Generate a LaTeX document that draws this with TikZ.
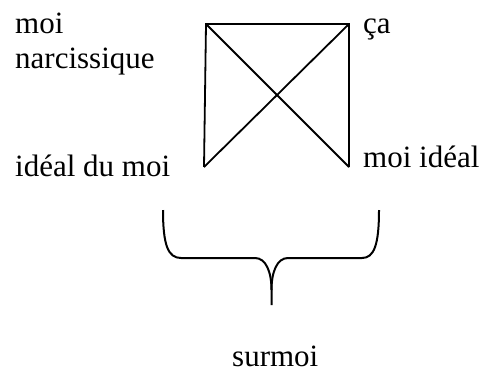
\documentclass[tikz,border=0pt]{standalone}
\usepackage{fontspec}
\setmainfont{Liberation Serif}
\usetikzlibrary{positioning}

\begin{document}
\begin{tikzpicture}[
    x=1pt, y=-1pt,
    lbl/.style={anchor=base west, inner sep=0pt, align=left,
                font=\fontsize{31}{35}\selectfont},
    trait/.style={line width=1.8pt, line join=miter},
    accol/.style={line width=2pt, line cap=butt}
  ]
  \useasboundingbox (0,0) rectangle (481,372);

  % coins du carre
  \coordinate (hg) at (206,24);
  \coordinate (hd) at (349,24);
  \coordinate (bd) at (349,167);
  \coordinate (bg) at (204,167);

  \draw[trait] (bg) -- (hg) -- (hd) -- (bd);
  \draw[trait] (hg) -- (bd);
  \draw[trait] (hd) -- (bg);

  \node[lbl] (narc) at (15,68) {moi\\narcissique};
  \node[lbl] (ca) at (363,33) {ça};
  \node[lbl] (idealdu) at (15,176) {idéal du moi};
  \node[lbl] (moiideal) at (363,167) {moi idéal};

  % accolade
  \coordinate (ag) at (163,210);
  \coordinate (ad) at (379,210);
  \coordinate (pointe) at (271.5,305);
  \draw[accol] (ag) .. controls (163,245) and (168,258) .. (181,258)
    -- (255,258) .. controls (266,258) and (271.5,272) .. (271.5,290)
    -- (pointe);
  \draw[accol] (ad) .. controls (379,245) and (374,258) .. (362,258)
    -- (288,258) .. controls (277,258) and (271.5,272) .. (271.5,290);

  \node[lbl] (surmoi) at (232,366) {surmoi};
\end{tikzpicture}
\end{document}
